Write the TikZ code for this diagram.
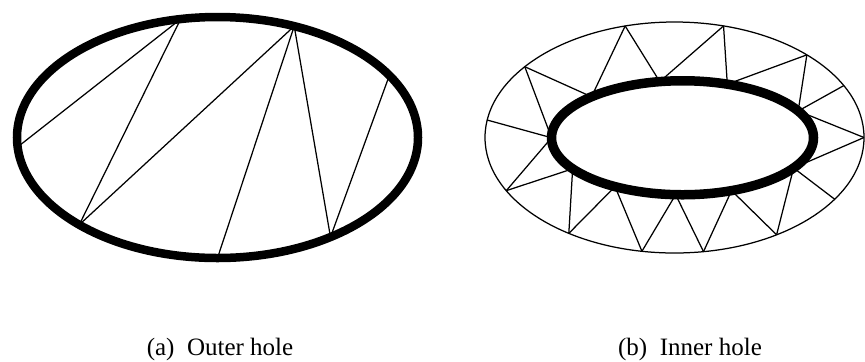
\documentclass[tikz,border=0pt]{standalone}
\usepackage{fontspec}
\setmainfont{Liberation Serif}
\usetikzlibrary{calc}

\begin{document}
\begin{tikzpicture}[
    x=0.4pt, y=0.4pt,
    hole/.style={line width=3.4pt},
    innerhole/.style={line width=3.8pt},
    rim/.style={line width=0.5pt},
    edge/.style={line width=0.5pt},
    caption/.style={anchor=base, inner sep=0pt, font=\fontsize{10}{12}\selectfont}
]
\useasboundingbox (0,0) rectangle (865,-361);

% Centres
\coordinate (lc) at (217.5,-137.5);
\coordinate (rc) at (674.5,-137.5);
\coordinate (ic) at (682.5,-137.75);

% Outer hole: points on the boundary
\coordinate (a1) at ($(lc)+(100.6:200.5 and 120.5)$);
\coordinate (a2) at ($(lc)+(184.5:200.5 and 120.5)$);
\coordinate (a3) at ($(lc)+(226.4:200.5 and 120.5)$);
\coordinate (a4) at ($(lc)+(67.5:200.5 and 120.5)$);
\coordinate (a5) at ($(lc)+(270:200.5 and 120.5)$);
\coordinate (a6) at ($(lc)+(304.3:200.5 and 120.5)$);
\coordinate (a7) at ($(lc)+(31:200.5 and 120.5)$);

% Inner hole: points on the outer rim
\coordinate (o1) at ($(rc)+(171.3:189.5 and 115.5)$);
\coordinate (o2) at ($(rc)+(142.2:189.5 and 115.5)$);
\coordinate (o3) at ($(rc)+(105.1:189.5 and 115.5)$);
\coordinate (o4) at ($(rc)+(75:189.5 and 115.5)$);
\coordinate (o5) at ($(rc)+(45.7:189.5 and 115.5)$);
\coordinate (o6) at ($(rc)+(26.7:189.5 and 115.5)$);
\coordinate (o7) at ($(rc)+(0:189.5 and 115.5)$);
\coordinate (o8) at ($(rc)+(-32.3:189.5 and 115.5)$);
\coordinate (o9) at ($(rc)+(-57.4:189.5 and 115.5)$);
\coordinate (o10) at ($(rc)+(-81.2:189.5 and 115.5)$);
\coordinate (o11) at ($(rc)+(-99.9:189.5 and 115.5)$);
\coordinate (o12) at ($(rc)+(-123.9:189.5 and 115.5)$);
\coordinate (o13) at ($(rc)+(-152.6:189.5 and 115.5)$);

% Inner hole: points on the hole
\coordinate (i1) at ($(ic)+(180:131 and 57)$);
\coordinate (i2) at ($(ic)+(134:131 and 57)$);
\coordinate (i3) at ($(ic)+(100:131 and 57)$);
\coordinate (i4) at ($(ic)+(70:131 and 57)$);
\coordinate (i5) at ($(ic)+(28:131 and 57)$);
\coordinate (i6) at ($(ic)+(-32:131 and 57)$);
\coordinate (i7) at ($(ic)+(-68:131 and 57)$);
\coordinate (i8) at ($(ic)+(-93:131 and 57)$);
\coordinate (i9) at ($(ic)+(-121:131 and 57)$);
\coordinate (i10) at ($(ic)+(-147:131 and 57)$);

% Edges (a)
\draw[edge] (a2) -- (a1);
\draw[edge] (a1) -- (a3);
\draw[edge] (a3) -- (a4);
\draw[edge] (a4) -- (a5);
\draw[edge] (a4) -- (a6);
\draw[edge] (a6) -- (a7);

% Edges (b)
\draw[edge] (o1) -- (i1);
\draw[edge] (o2) -- (i1);
\draw[edge] (o2) -- (i2);
\draw[edge] (o3) -- (i2);
\draw[edge] (o3) -- (i3);
\draw[edge] (o4) -- (i3);
\draw[edge] (o4) -- (i4);
\draw[edge] (o5) -- (i4);
\draw[edge] (o5) -- (i5);
\draw[edge] (o6) -- (i5);
\draw[edge] (o7) -- (i5);
\draw[edge] (o7) -- (i6);
\draw[edge] (o8) -- (i6);
\draw[edge] (o9) -- (i6);
\draw[edge] (o9) -- (i7);
\draw[edge] (o10) -- (i7);
\draw[edge] (o10) -- (i8);
\draw[edge] (o11) -- (i8);
\draw[edge] (o11) -- (i9);
\draw[edge] (o12) -- (i9);
\draw[edge] (o12) -- (i10);
\draw[edge] (o13) -- (i10);
\draw[edge] (o13) -- (i1);

% Boundaries
\draw[hole] (lc) ellipse [x radius=200.5, y radius=120.5];
\draw[rim] (rc) ellipse [x radius=189.5, y radius=115.5];
\draw[innerhole] (ic) ellipse [x radius=131, y radius=57];

% Captions
\node (capa) [caption] at (220,-355) {(a)\enspace Outer hole};
\node (capb) [caption] at (690,-355) {(b)\enspace Inner hole};

\end{tikzpicture}
\end{document}
